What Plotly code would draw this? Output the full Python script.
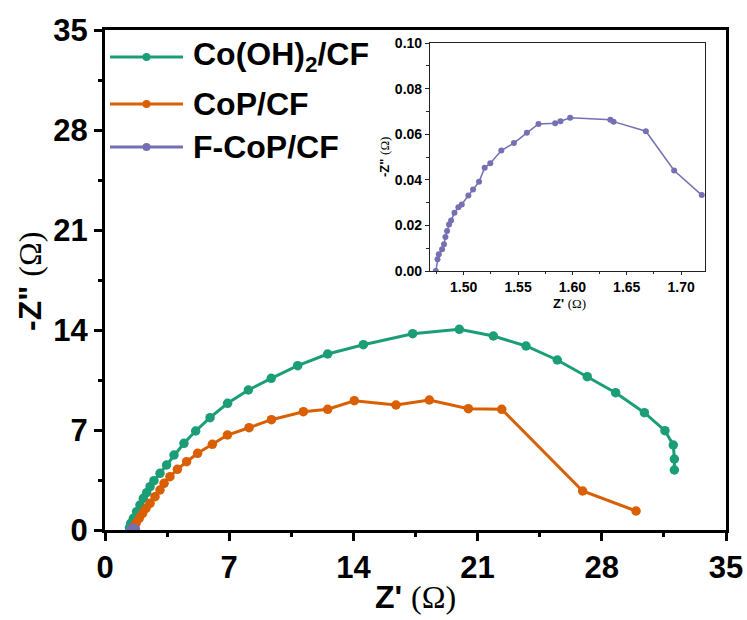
import plotly.graph_objects as go

# ---------------- data ----------------
co_x = [1.38, 1.45, 1.60, 1.78, 1.97, 2.16, 2.35, 2.54, 2.76, 3.10, 3.47, 3.89, 4.45, 5.11, 5.92,
        6.91, 8.08, 9.37, 10.86, 12.55, 14.56, 17.34, 19.97, 21.89, 23.73, 25.49, 27.18, 28.78,
        30.40, 31.56, 32.03, 32.09, 32.09]
co_y = [0.15, 0.47, 0.82, 1.28, 1.75, 2.22, 2.61, 3.03, 3.45, 3.97, 4.55, 5.25, 6.07, 6.93, 7.86,
        8.87, 9.80, 10.62, 11.50, 12.32, 12.97, 13.74, 14.05, 13.58, 12.88, 11.90, 10.73, 9.61,
        8.21, 6.95, 5.95, 4.97, 4.20]

cop_x = [1.55, 1.75, 1.93, 2.12, 2.31, 2.54, 2.82, 3.10, 3.33, 3.66, 4.08, 4.60, 5.22, 6.05, 6.90,
         8.12, 9.38, 11.18, 12.55, 14.05, 16.40, 18.28, 20.48, 22.36, 26.92, 29.93]
cop_y = [0.15, 0.47, 0.82, 1.17, 1.52, 1.87, 2.33, 2.80, 3.27, 3.73, 4.25, 4.78, 5.37, 6.00, 6.65,
         7.16, 7.72, 8.28, 8.45, 9.05, 8.75, 9.10, 8.49, 8.45, 2.73, 1.33]

fcop_x = [1.4743, 1.4759, 1.4771, 1.4801, 1.4819, 1.4832, 1.4847, 1.4865, 1.4884, 1.4915, 1.4951,
          1.4982, 1.5043, 1.5086, 1.5141, 1.5193, 1.5245, 1.5346, 1.5462, 1.5581, 1.5688, 1.5841,
          1.5890, 1.5979, 1.6349, 1.6379, 1.6676, 1.6936, 1.7190]
fcop_y = [0.0000, 0.0051, 0.0073, 0.0095, 0.0117, 0.0149, 0.0175, 0.0204, 0.0222, 0.0255, 0.0280,
          0.0292, 0.0331, 0.0358, 0.0391, 0.0453, 0.0473, 0.0528, 0.0561, 0.0606, 0.0645, 0.0648,
          0.0657, 0.0672, 0.0663, 0.0655, 0.0613, 0.0441, 0.0333]

series_names = ["Co(OH)<sub>2</sub>/CF", "CoP/CF", "F-CoP/CF"]
main_ticks = [0, 7, 14, 21, 28, 35]
inset_xticks = [1.50, 1.55, 1.60, 1.65, 1.70]
inset_yticks = [0.00, 0.02, 0.04, 0.06, 0.08, 0.10]

GREEN = "#1b9e77"
ORANGE = "#d95f02"
PURPLE = "#7570b3"
colors = [GREEN, ORANGE, PURPLE]

W, H = 747, 620
FONT = "Arial, Liberation Sans, sans-serif"
SERIF = "Times New Roman, Liberation Serif, serif"

fig = go.Figure()
for xs, ys, c, n in [(co_x, co_y, GREEN, series_names[0]),
                     (cop_x, cop_y, ORANGE, series_names[1]),
                     (fcop_x, fcop_y, PURPLE, series_names[2])]:
    fig.add_trace(go.Scatter(x=xs, y=ys, mode="lines+markers", name=n,
                             line=dict(color=c, width=3), marker=dict(size=9.5, color=c),
                             xaxis="x", yaxis="y", showlegend=False))

fig.add_trace(go.Scatter(x=fcop_x, y=fcop_y, mode="lines+markers",
                         line=dict(color=PURPLE, width=1.5), marker=dict(size=6, color=PURPLE),
                         xaxis="x2", yaxis="y2", showlegend=False))

def px_x(p):
    return p / W

def px_y(p):
    return (H - p) / H

main_axis = dict(showline=True, linewidth=3, linecolor="black", mirror=True,
                 ticks="outside", ticklen=8, tickwidth=2.5, tickcolor="black",
                 showgrid=False, zeroline=False, automargin=False,
                 tickfont=dict(family=FONT, size=31, color="black", weight="bold"),
                 minor=dict(ticks="outside", ticklen=4, tickwidth=2.5, tickcolor="black",
                            dtick=3.5, showgrid=False))
inset_axis = dict(showline=True, linewidth=1.2, linecolor="#222", mirror=True,
                  ticks="outside", ticklen=4, tickwidth=1.2, tickcolor="#222",
                  showgrid=False, zeroline=False, automargin=False,
                  tickfont=dict(family=FONT, size=14, color="black", weight="bold"),
                  tickformat=".2f")

fig.update_layout(
    template="none",
    width=W, height=H, margin=dict(l=0, r=0, t=0, b=0, autoexpand=False),
    paper_bgcolor="white", plot_bgcolor="white",
    xaxis=dict(main_axis, domain=[px_x(105), px_x(726)], range=[0, 35], anchor="y",
               tickvals=main_ticks),
    yaxis=dict(main_axis, domain=[px_y(530), px_y(30)], range=[0, 35], anchor="x",
               tickvals=main_ticks),
    xaxis2=dict(inset_axis, domain=[px_x(430), px_x(705)], range=[1.469, 1.722], anchor="y2",
                tickvals=inset_xticks, ticklen=3,
                minor=dict(ticks="outside", ticklen=2, tickwidth=1.2, tickcolor="#222",
                           dtick=0.025, tick0=1.5)),
    yaxis2=dict(inset_axis, domain=[px_y(271), px_y(43)], range=[0, 0.10], anchor="x2",
                tickvals=inset_yticks,
                minor=dict(ticks="outside", ticklen=3, tickwidth=1.2, tickcolor="#222",
                           dtick=0.01)),
)

annotations = [
    dict(x=px_x(415), y=px_y(597), xref="paper", yref="paper", showarrow=False,
         xanchor="center", yanchor="middle",
         text="<b>Z'</b> <span style='font-family:%s'>(Ω)</span>" % SERIF,
         font=dict(family=FONT, size=32, color="black")),
    dict(x=px_x(30), y=px_y(282), xref="paper", yref="paper", showarrow=False, textangle=-90,
         xanchor="center", yanchor="middle",
         text="<b>-Z\"</b> <span style='font-family:%s'>(Ω)</span>" % SERIF,
         font=dict(family=FONT, size=32, color="black")),
    dict(x=px_x(569), y=px_y(303), xref="paper", yref="paper", showarrow=False,
         xanchor="center", yanchor="middle",
         text="<b>Z'</b> <span style='font-family:%s'>(Ω)</span>" % SERIF,
         font=dict(family=FONT, size=13, color="black")),
    dict(x=px_x(385), y=px_y(157), xref="paper", yref="paper", showarrow=False, textangle=-90,
         xanchor="center", yanchor="middle",
         text="<b>-Z\"</b> <span style='font-family:%s'>(Ω)</span>" % SERIF,
         font=dict(family=FONT, size=13, color="black")),
]

shapes = []
leg_y = [57, 104, 147]
for yy, c, n in zip(leg_y, colors, series_names):
    shapes.append(dict(type="line", xref="paper", yref="paper",
                       x0=px_x(110), x1=px_x(183), y0=px_y(yy), y1=px_y(yy),
                       line=dict(color=c, width=3)))
    shapes.append(dict(type="circle", xref="paper", yref="paper",
                       x0=px_x(142.5), x1=px_x(150.5), y0=px_y(yy + 4), y1=px_y(yy - 4),
                       fillcolor=c, line=dict(color=c, width=0)))
    annotations.append(dict(x=px_x(191), y=px_y(yy), xref="paper", yref="paper",
                            xanchor="left", yanchor="middle", showarrow=False,
                            text="<b>%s</b>" % n,
                            font=dict(family=FONT, size=32, color="black")))

fig.update_layout(annotations=annotations, shapes=shapes)
fig.write_html("out.html")
